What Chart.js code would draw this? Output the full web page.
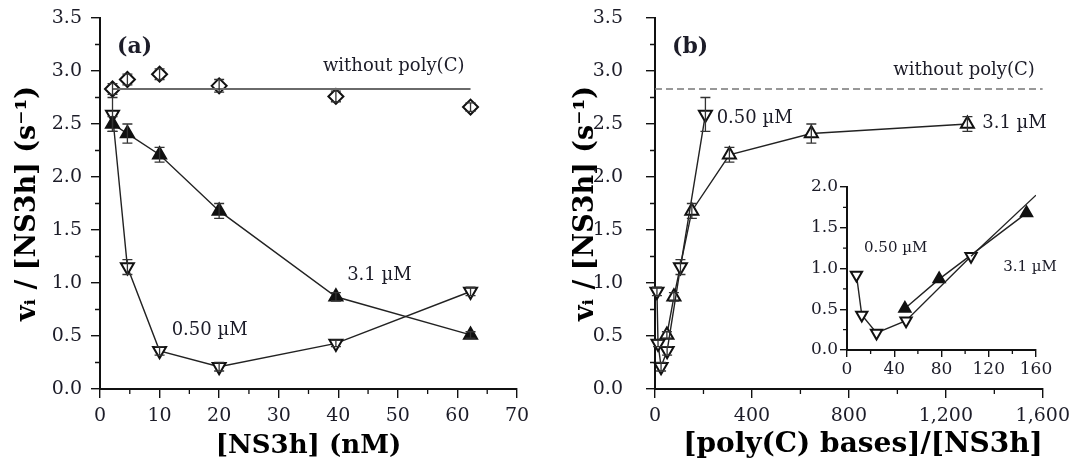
<!DOCTYPE html>
<html>
<head>
<meta charset="utf-8">
<script src="https://cdn.jsdelivr.net/npm/chart.js@4"></script>
<style>
  body { margin: 0; background: #fff; }
  #wrap { position: relative; width: 1077px; height: 469px; }
  canvas { position: absolute; top: 0; }
</style>
</head>
<body>
<div id="wrap">
  <canvas id="panel_a" width="545" height="469" style="left:0"></canvas>
  <canvas id="panel_b" width="532" height="469" style="left:545px"></canvas>
  <canvas id="inset_b" width="270" height="205" style="left:795px;top:175px"></canvas>
</div>
<script>
// ---- panel (a) : rate vs [NS3h] (nM)
const ns3hConc   = [2.1, 4.6, 10, 20, 39.6, 62.2];
const rateNoPoly = [2.83, 2.92, 2.97, 2.86, 2.76, 2.66];
const errNoPoly  = [0.05, 0.05, 0.05, 0.06, 0.05, 0.04];
const rate31     = [2.50, 2.41, 2.21, 1.68, 0.87, 0.51];
const err31      = [0.07, 0.09, 0.07, 0.07, 0.04, 0.03];
const rate050    = [2.59, 1.15, 0.36, 0.21, 0.43, 0.92];
const err050     = [0.16, 0.07, 0.04, 0.04, 0.03, 0.04];
const noPolyLevel = 2.83;
const levelRangeA = [2.1, 62.2];

// ---- panel (b) : rate vs [poly(C) bases]/[NS3h]
const ratio31  = [1289, 645, 307, 152, 78, 49];
const ratio050 = [208, 105, 50, 25, 12.5, 8];
const levelRangeB = [0, 1600];

// ---- inset
const insetMaxX = 160;
const insetFitX = [105, 160];
const insetFitY = [1.15, 1.90];

const SERIF = "'DejaVu Serif', 'Liberation Serif', serif";
const INK = '#1c1c28';

function pairs(xs, ys) {
  var out = [];
  for (let i = 0; i < xs.length; i++) out.push({x: xs[i], y: ys[i]});
  return out;
}
function upTo(xs, ys, max) {
  return pairs(xs, ys).filter(p => p.x <= max);
}
function withComma(v) {
  return String(v).replace(/\B(?=(\d{3})+(?!\d))/g, ',');
}

// error bars drawn on top of the markers (the originals show the bar through the symbol)
var errorBars = {
  id: 'errorBars',
  afterDatasetsDraw(chart) {
    var ctx = chart.ctx, ys = chart.scales.y;
    chart.data.datasets.forEach(function(ds, i) {
      if (!ds.errors) return;
      var meta = chart.getDatasetMeta(i);
      ctx.save();
      ctx.strokeStyle = '#333';
      ctx.lineWidth = 1.3;
      meta.data.forEach(function(pt, j) {
        var e = ds.errors[j];
        if (!e) return;
        var v = ds.data[j].y;
        var top = ys.getPixelForValue(v + e), bot = ys.getPixelForValue(v - e);
        ctx.beginPath();
        ctx.moveTo(pt.x, top); ctx.lineTo(pt.x, bot);
        ctx.moveTo(pt.x - 5, top); ctx.lineTo(pt.x + 5, top);
        ctx.moveTo(pt.x - 5, bot); ctx.lineTo(pt.x + 5, bot);
        ctx.stroke();
      });
      ctx.restore();
    });
  }
};

// small ticks half way between the labelled ones
var minorTicks = {
  id: 'minorTicks',
  afterDraw(chart, args, opts) {
    var ctx = chart.ctx, xs = chart.scales.x, ys = chart.scales.y, a = chart.chartArea;
    ctx.save();
    ctx.strokeStyle = '#111';
    ctx.lineWidth = 1.3;
    ctx.beginPath();
    for (let v = xs.min + opts.x / 2; v < xs.max; v += opts.x) {
      var px = xs.getPixelForValue(v);
      ctx.moveTo(px, a.bottom); ctx.lineTo(px, a.bottom + opts.len);
    }
    for (let v = ys.min + opts.y / 2; v < ys.max; v += opts.y) {
      var py = ys.getPixelForValue(v);
      ctx.moveTo(a.left, py); ctx.lineTo(a.left - opts.len, py);
    }
    ctx.stroke();
    ctx.restore();
  }
};

// free text placed in data units
var textLabels = {
  id: 'textLabels',
  afterDraw(chart, args, opts) {
    var ctx = chart.ctx;
    opts.items.forEach(function(t) {
      ctx.save();
      ctx.font = t.font;
      ctx.fillStyle = INK;
      ctx.textAlign = t.align || 'center';
      ctx.textBaseline = 'middle';
      ctx.fillText(t.text, chart.scales.x.getPixelForValue(t.x), chart.scales.y.getPixelForValue(t.y));
      ctx.restore();
    });
  }
};

function axes(cfg) {
  var tickFont = {family: SERIF, size: cfg.tickSize};
  var x = {
    type: 'linear', min: cfg.x[0], max: cfg.x[1],
    ticks: {stepSize: cfg.x[2], autoSkip: false, maxRotation: 0, color: INK, font: tickFont,
            padding: cfg.xPad, callback: v => withComma(v)},
    grid: {drawOnChartArea: false, tickLength: cfg.tickLen, color: '#111', lineWidth: 1.4},
    border: {display: true, color: '#111', width: 2},
    afterFit: s => { s.height = cfg.xH; }
  };
  var y = {
    type: 'linear', min: cfg.y[0], max: cfg.y[1],
    ticks: {stepSize: cfg.y[2], color: INK, font: tickFont, padding: cfg.yPad,
            callback: v => v.toFixed(1)},
    grid: {drawOnChartArea: false, tickLength: cfg.tickLen, color: '#111', lineWidth: 1.4},
    border: {display: true, color: '#111', width: 2},
    // fixed width; the label padding must not push the plot top down
    afterFit: s => { s.width = cfg.yW; s.paddingTop = 8; s.paddingBottom = 8; }
  };
  if (cfg.xTitle) {
    x.title = {display: true, text: cfg.xTitle, color: '#000', align: cfg.xAlign || 'center',
               font: {family: SERIF, size: cfg.xTitleSize, weight: 'bold'}, padding: {top: 0, bottom: 7}};
  }
  if (cfg.yTitle) {
    y.title = {display: true, text: cfg.yTitle, color: '#000',
               font: {family: SERIF, size: 27, weight: 'bold'}, padding: {top: 12, bottom: 0}};
  }
  return {x: x, y: y};
}

function marker(style, filled, r) {
  return {
    pointStyle: 'triangle',
    rotation: style === 'down' ? 180 : 0,
    pointRadius: r, pointHoverRadius: r,
    pointBackgroundColor: filled ? '#111' : '#fff',
    pointBorderColor: '#111', pointBorderWidth: 2,
    borderColor: '#222', borderWidth: 1.4,
    showLine: true, clip: false
  };
}

function baseOptions(padding, scales, minor, items) {
  return {
    responsive: false, devicePixelRatio: 1, animation: false,
    layout: {padding: padding},
    scales: scales,
    plugins: {
      legend: {display: false}, tooltip: {enabled: false},
      minorTicks: minor, textLabels: {items: items}
    }
  };
}

const mainFont = '18px ' + SERIF;
const insetFont = '15px ' + SERIF;
const plugins = [errorBars, minorTicks, textLabels];

// ---------- (a)
new Chart(document.getElementById('panel_a'), {
  type: 'scatter',
  data: {
    datasets: [
      {data: [{x: levelRangeA[0], y: noPolyLevel}, {x: levelRangeA[1], y: noPolyLevel}],
       showLine: true, borderColor: '#6a6a6a', borderWidth: 2, pointRadius: 0},
      {data: pairs(ns3hConc, rate31), ...marker('up', true, 7.5), errors: err31},
      {data: pairs(ns3hConc, rate050), ...marker('down', false, 7.5), errors: err050},
      {data: pairs(ns3hConc, rateNoPoly), pointStyle: 'rectRot', pointRadius: 7.5,
       pointBackgroundColor: '#fff', pointBorderColor: '#111', pointBorderWidth: 2,
       showLine: false, errors: errNoPoly}
    ]
  },
  options: baseOptions({left: 0, top: 18, right: 28, bottom: 0},
    axes({x: [0, 70, 10], y: [0, 3.5, 0.5], tickSize: 19, tickLen: 9, xPad: 7, yPad: 9,
          xH: 80, yW: 100, xTitle: '[NS3h] (nM)', xTitleSize: 26,
          yTitle: 'vᵢ / [NS3h] (s⁻¹)'}),
    {x: 10, y: 0.5, len: 5},
    [
      {text: '(a)', x: 2.85, y: 3.22, font: 'bold 22px ' + SERIF, align: 'left'},
      {text: 'without poly(C)', x: 49.3, y: 3.04, font: mainFont},
      {text: '3.1 µM', x: 46.9, y: 1.07, font: mainFont},
      {text: '0.50 µM', x: 18.4, y: 0.55, font: mainFont}
    ]),
  plugins: plugins
});

// ---------- (b)
new Chart(document.getElementById('panel_b'), {
  type: 'scatter',
  data: {
    datasets: [
      {data: [{x: levelRangeB[0], y: noPolyLevel}, {x: levelRangeB[1], y: noPolyLevel}],
       showLine: true, borderColor: '#777', borderWidth: 1.5, borderDash: [7, 4], pointRadius: 0},
      {data: pairs(ratio050, rate050), ...marker('down', false, 7.5), errors: err050},
      {data: pairs(ratio31, rate31), ...marker('up', false, 7.5), errors: err31}
    ]
  },
  options: baseOptions({left: 13, top: 18, right: 31, bottom: 0},
    axes({x: [0, 1600, 400], y: [0, 3.5, 0.5], tickSize: 19, tickLen: 9, xPad: 7, yPad: 23,
          xH: 80, yW: 97, xTitle: '[poly(C) bases]/[NS3h]', xAlign: 'end', xTitleSize: 28,
          yTitle: 'vᵢ / [NS3h] (s⁻¹)'}),
    {x: 400, y: 0.5, len: 5},
    [
      {text: '(b)', x: 70, y: 3.22, font: 'bold 22px ' + SERIF, align: 'left'},
      {text: 'without poly(C)', x: 1275, y: 3.01, font: mainFont},
      {text: '0.50 µM', x: 411, y: 2.55, font: mainFont},
      {text: '3.1 µM', x: 1483, y: 2.51, font: mainFont}
    ]),
  plugins: plugins
});

// ---------- inset of (b), low ratios only
new Chart(document.getElementById('inset_b'), {
  type: 'scatter',
  data: {
    datasets: [
      {data: pairs(insetFitX, insetFitY), showLine: true, borderColor: '#222', borderWidth: 1.4,
       pointRadius: 0},
      {data: upTo(ratio050, rate050, insetMaxX), ...marker('down', false, 6.5)},
      {data: upTo(ratio31, rate31, insetMaxX), ...marker('up', true, 6.5)}
    ]
  },
  options: baseOptions({left: 0, top: 12, right: 29, bottom: 0},
    axes({x: [0, 160, 40], y: [0, 2, 0.5], tickSize: 17, tickLen: 7, xPad: 2, yPad: 2,
          xH: 30, yW: 52}),
    {x: 40, y: 0.5, len: 4},
    [
      {text: '0.50 µM', x: 41.2, y: 1.25, font: insetFont},
      {text: '3.1 µM', x: 155, y: 1.02, font: insetFont}
    ]),
  plugins: plugins
});
</script>
</body>
</html>
